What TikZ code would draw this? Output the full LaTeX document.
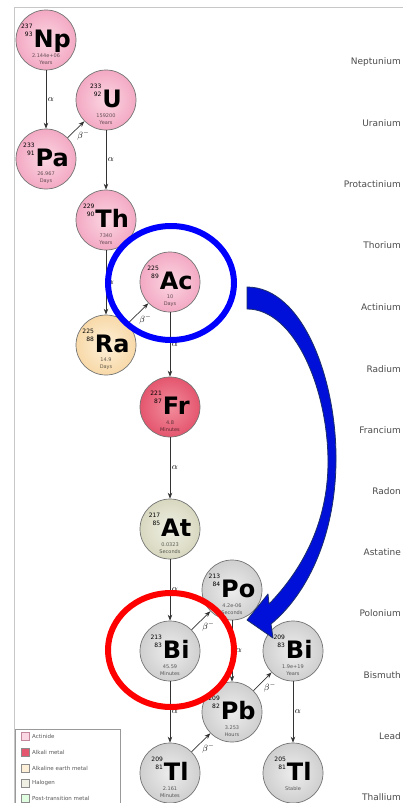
\documentclass[tikz,border=0pt]{standalone}
\usepackage{fontspec}
\newfontfamily\dvs{DejaVu Sans}
\usetikzlibrary{arrows.meta}

% fills for the element groups (outer / inner of the radial shade)
\definecolor{actO}{HTML}{F3A9C3}\definecolor{actI}{HTML}{FBD6E3}
\definecolor{aeO}{HTML}{F8D9A8}\definecolor{aeI}{HTML}{FDEFD8}
\definecolor{akO}{HTML}{E4566E}\definecolor{akI}{HTML}{F28C9C}
\definecolor{haO}{HTML}{D8D8C0}\definecolor{haI}{HTML}{EFEFE4}
\definecolor{ptO}{HTML}{CFCFCF}\definecolor{ptI}{HTML}{EDEDED}
\definecolor{arrowblue}{HTML}{0010D8}
\definecolor{arrowline}{HTML}{1C2F6A}

% mass number over atomic number, set before the symbol
\newcommand\nucnum[2]{\raisebox{10.5pt}{\mdseries\fontsize{6}{8.5}\selectfont
  \begin{tabular}[b]{@{}r@{}}#1\\#2\end{tabular}}\hspace{1pt}}

% name, x, y, style, mass, Z, symbol, half-life value, unit
\newcommand\nuclide[9]{%
  \node[#4] (#1) at (#2,#3) {};
  \node[symlab] (#1-sym) at ([yshift=-7pt]#1.center) {\nucnum{#5}{#6}#7};
  \node[hllab] (#1-hl) at ([yshift=-19pt]#1.center) {#8\\#9};
}

\begin{document}
\begin{tikzpicture}[x=1pt,y=-1pt,
  nucl/.style={circle, minimum size=60pt, inner sep=0pt, draw=black!55, line width=0.7pt},
  actinide/.style={nucl, inner color=actI, outer color=actO},
  alkearth/.style={nucl, inner color=aeI, outer color=aeO},
  alkali/.style={nucl, inner color=akI, outer color=akO},
  halogen/.style={nucl, inner color=haI, outer color=haO},
  posttm/.style={nucl, inner color=ptI, outer color=ptO},
  symlab/.style={anchor=base, inner sep=0pt, font=\dvs\bfseries\fontsize{24}{24}\selectfont},
  hllab/.style={align=center, inner sep=0pt, text opacity=0.6,
    font=\dvs\fontsize{5}{7}\selectfont},
  decay/.style={-{Stealth[length=6pt,width=4.5pt]}, draw=black!80, line width=0.7pt},
  alab/.style={anchor=west, inner sep=1.5pt, font=\fontsize{9}{9}\selectfont},
  blab/.style={anchor=north west, inner sep=1pt, font=\fontsize{9}{9}\selectfont},
  elname/.style={anchor=east, inner sep=0pt, text=black!70, font=\dvs\fontsize{9}{10}\selectfont},
  legbox/.style={draw=black!45, line width=0.5pt, minimum size=8pt, inner sep=0pt},
  legtext/.style={anchor=west, inner sep=0pt, text=black!65, font=\dvs\fontsize{5.5}{6}\selectfont},
]
\clip (0,0) rectangle (403,803);
\fill[white] (0,0) rectangle (403,803);
\draw[black!22, line width=0.8pt] (14,803) -- (14,7) -- (403,7);

% element names down the right-hand side
\foreach \el/\yy in {Neptunium/62, Uranium/123, Protactinium/184, Thorium/245,
    Actinium/307, Radium/369, Francium/430, Radon/491, Astatine/552,
    Polonium/613, Bismuth/675, Lead/736, Thallium/797}
  \node[elname] (name-\el) at (401,\yy) {\el};

% nuclides of the chain
\nuclide{np237}{46}{40}{actinide}{237}{93}{Np}{2.144e+06}{Years}
\nuclide{u233}{106}{100}{actinide}{233}{92}{U}{159200}{Years}
\nuclide{pa233}{46}{159}{actinide}{233}{91}{Pa}{26.967}{Days}
\nuclide{th229}{106}{220}{actinide}{229}{90}{Th}{7340}{Years}
\nuclide{ac225}{170}{282}{actinide}{225}{89}{Ac}{10}{Days}
\nuclide{ra225}{106}{345}{alkearth}{225}{88}{Ra}{14.9}{Days}
\nuclide{fr221}{170}{407}{alkali}{221}{87}{Fr}{4.8}{Minutes}
\nuclide{at217}{170}{529}{halogen}{217}{85}{At}{0.0323}{Seconds}
\nuclide{po213}{232}{590}{posttm}{213}{84}{Po}{4.2e-06}{Seconds}
\nuclide{bi213}{170}{651}{posttm}{213}{83}{Bi}{45.59}{Minutes}
\nuclide{bi209}{293}{651}{posttm}{209}{83}{Bi}{1.9e+19}{Years}
\nuclide{pb209}{232}{712}{posttm}{209}{82}{Pb}{3.253}{Hours}
\nuclide{tl209}{170}{773}{posttm}{209}{81}{Tl}{2.161}{Minutes}
\nuclide{tl205}{293}{773}{posttm}{205}{81}{Tl}{Stable}{}

% decays
\draw[decay] (np237) -- node[alab] {$\alpha$} (pa233);
\draw[decay] (pa233) -- node[blab] {$\beta^-$} (u233);
\draw[decay] (u233) -- node[alab] {$\alpha$} (th229);
\draw[decay] (th229) -- node[alab] {$\alpha$} (ra225);
\draw[decay] (ra225) -- node[blab] {$\beta^-$} (ac225);
\draw[decay] (ac225) -- node[alab] {$\alpha$} (fr221);
\draw[decay] (fr221) -- node[alab] {$\alpha$} (at217);
\draw[decay] (at217) -- node[alab] {$\alpha$} (bi213);
\draw[decay] (bi213) -- node[blab] {$\beta^-$} (po213);
\draw[decay] (bi213) -- node[alab] {$\alpha$} (tl209);
\draw[decay] (po213) -- node[alab, xshift=2pt] {$\alpha$} (pb209);
\draw[decay] (tl209) -- node[blab] {$\beta^-$} (pb209);
\draw[decay] (pb209) -- node[blab] {$\beta^-$} (bi209);
\draw[decay] (bi209) -- node[alab] {$\alpha$} (tl205);

% legend
\draw[black!40, line width=0.5pt, fill=white] (15,729) rectangle (120,810);
\node[legbox, fill=actI, draw=actO!80!black] (lg1) at (25,736) {};
\node[legtext] (lg1-t) at (32,736) {Actinide};
\node[legbox, fill=akO] (lg2) at (25,752) {};
\node[legtext] (lg2-t) at (32,752) {Alkali metal};
\node[legbox, fill=aeI] (lg3) at (25,768) {};
\node[legtext] (lg3-t) at (32,768) {Alkaline earth metal};
\node[legbox, fill=haI] (lg4) at (25,783) {};
\node[legtext] (lg4-t) at (32,783) {Halogen};
\node[legbox, fill=green!12] (lg5) at (25,798) {};
\node[legtext] (lg5-t) at (32,798) {Post-transition metal};

% highlight rings
\draw[blue, line width=6pt] (171,283) ellipse [x radius=63, y radius=57];
\draw[red, line width=6pt] (171,650) ellipse [x radius=63, y radius=57];

% curved block arrow from the actinium ring down to the bismuth row
\filldraw[fill=arrowblue, draw=arrowline, line width=0.8pt, line join=round]
  (247,287) .. controls (303,287) and (337,380) .. (336,462)
  .. controls (335,540) and (305,596) .. (271,624)
  -- (273,638) -- (247,620) -- (268,594) -- (269,604)
  .. controls (300,572) and (328,525) .. (328,462)
  .. controls (328,390) and (295,309) .. (247,309) -- cycle;
\end{tikzpicture}
\end{document}
